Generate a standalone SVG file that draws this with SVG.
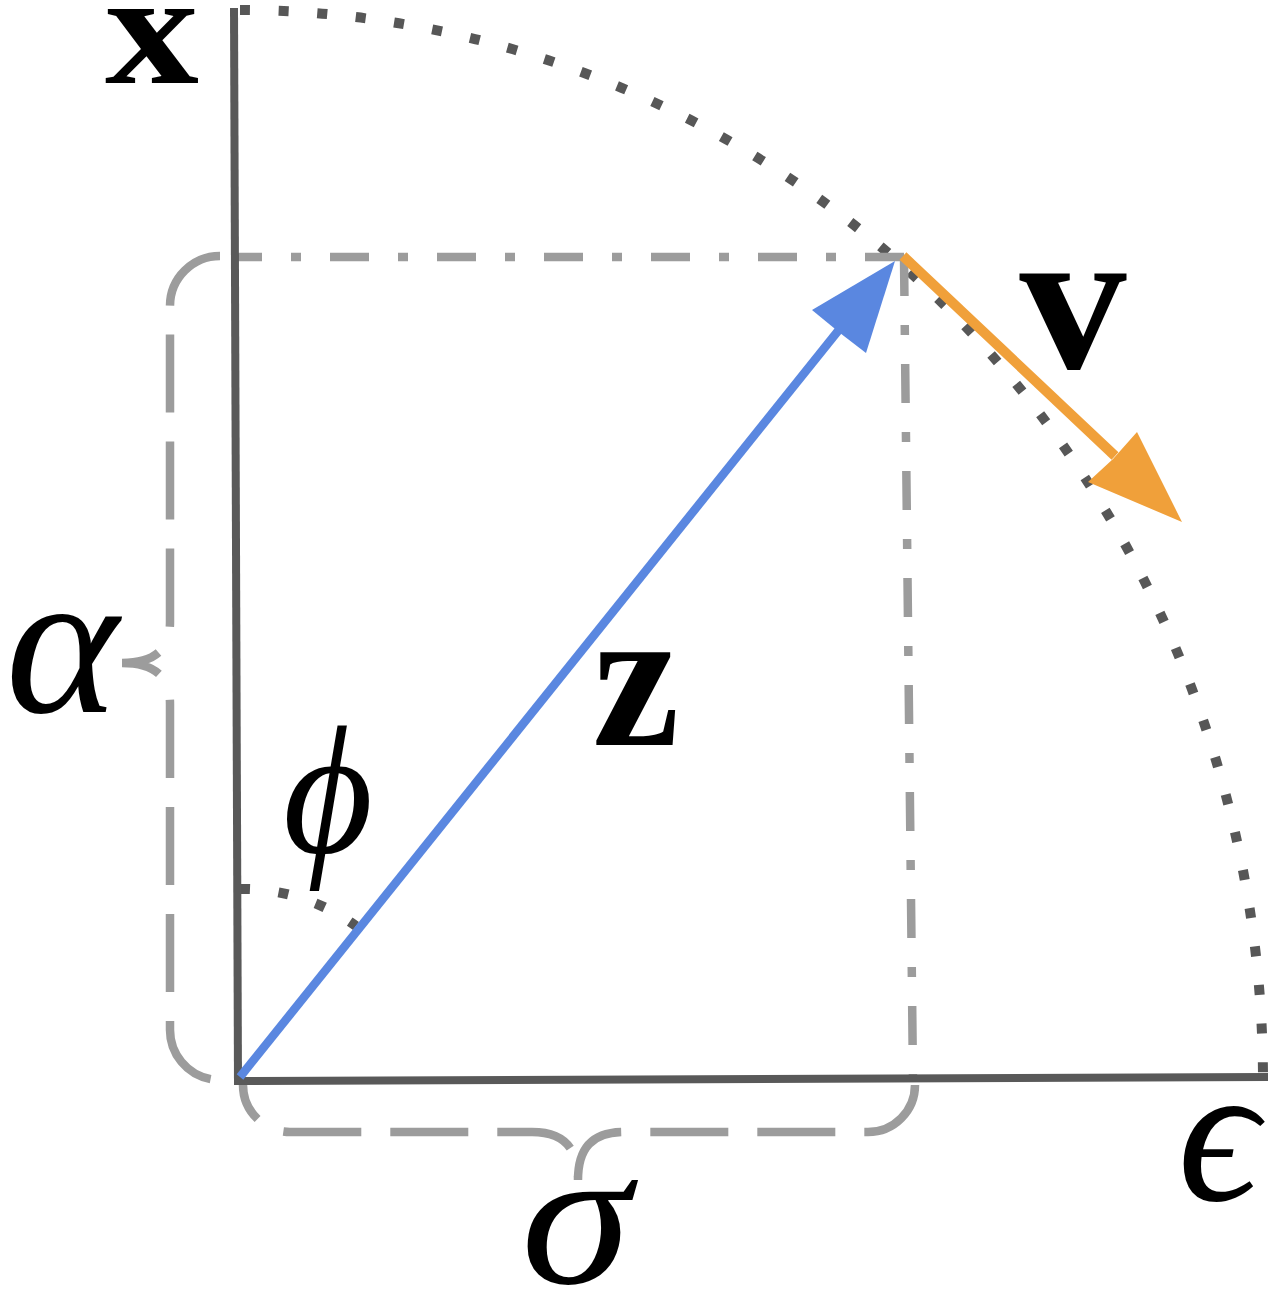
<svg xmlns="http://www.w3.org/2000/svg" width="1274" height="1300" viewBox="0 0 1274 1300">
  <style>
    .axis { stroke: #595959; stroke-width: 8; fill: none; stroke-linecap: butt; }
    .dots { stroke: #575757; stroke-width: 10; fill: none; stroke-dasharray: 10 28.7; stroke-linecap: butt; }
    .dashdot { stroke: #9c9c9c; stroke-width: 8.5; fill: none; stroke-dasharray: 39 29 10 29; stroke-linecap: butt; }
    .brace { stroke: #9c9c9c; stroke-width: 8.5; fill: none; stroke-dasharray: 78 29; stroke-linecap: butt; }
    .bold { font-family: "Liberation Serif", "DejaVu Serif", serif; font-weight: bold; fill: #000; text-anchor: middle; }
    .greek { font-family: "Liberation Serif", "DejaVu Serif", serif; font-style: italic; fill: #000; text-anchor: middle; }
  </style>
  <rect width="1274" height="1300" fill="#ffffff"/>

  <g id="guides">
    <path class="dots" d="M 240 10 A 1025 1071 0 0 1 1263 1081"/>
    <line class="dashdot" x1="904" y1="257" x2="238" y2="257"/>
    <line class="dashdot" x1="904" y1="257" x2="913" y2="1081"/>
    <path class="dots" d="M 240 889 A 192 192 0 0 1 356 926"/>
  </g>

  <g id="axes">
    <line class="axis" x1="234" y1="8" x2="238" y2="1085"/>
    <line class="axis" x1="234" y1="1081" x2="1268" y2="1077"/>
  </g>

  <g id="braces">
    <path class="brace" d="M 220 256 A 50 50 0 0 0 170 306 L 170 622 C 170 648 156 663 122 663 C 156 663 170 678 170 704 L 170 1030 A 50 50 0 0 0 220 1080"/>
    <path class="brace" style="stroke-dashoffset:40" d="M 243 1085 A 47 47 0 0 0 290 1132 L 532 1132 C 562 1132 578 1146 578 1180 C 578 1146 594 1132 624 1132 L 868 1132 A 47 47 0 0 0 915 1085"/>
  </g>

  <g id="connectors">
    <g id="vector-z">
      <line x1="240" y1="1077" x2="842" y2="326" stroke="#5a87e0" stroke-width="8.5"/>
      <polygon points="895,261 866,353 840,333 812,310" fill="#5a87e0"/>
    </g>
    <g id="vector-v">
      <line x1="903" y1="256" x2="1115" y2="456" stroke="#f0a03a" stroke-width="10"/>
      <polygon points="1182,522 1088,482 1113,459 1137,432" fill="#f0a03a"/>
    </g>
  </g>

  <g id="label-x"><text class="bold" x="152" y="83" font-size="160" textLength="94" lengthAdjust="spacingAndGlyphs">x</text></g>
  <g id="label-v"><text class="bold" x="1073" y="368" font-size="205" textLength="107" lengthAdjust="spacingAndGlyphs">v</text></g>
  <g id="label-z"><text class="bold" x="636" y="745" font-size="202" textLength="87" lengthAdjust="spacingAndGlyphs">z</text></g>
  <g id="label-alpha"><text class="greek" x="62" y="712" font-size="208" textLength="113" lengthAdjust="spacingAndGlyphs">α</text></g>
  <g id="label-phi"><text class="greek" x="328" y="852" font-size="182" textLength="90" lengthAdjust="spacingAndGlyphs">ϕ</text></g>
  <g id="label-sigma"><text class="greek" x="576" y="1283" font-size="200" textLength="110" lengthAdjust="spacingAndGlyphs">σ</text></g>
  <g id="label-epsilon"><text class="greek" x="1218" y="1200" font-size="200">ϵ</text></g>
</svg>
